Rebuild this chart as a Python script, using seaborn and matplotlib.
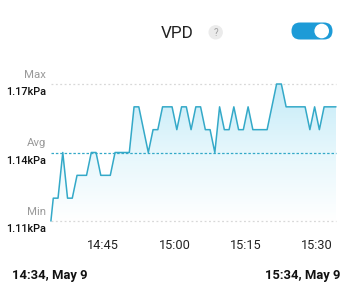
import numpy as np
import pandas as pd
import matplotlib
matplotlib.use("Agg")
import matplotlib.pyplot as plt
import seaborn as sns
from matplotlib.patches import FancyBboxPatch, Circle, PathPatch
from matplotlib.colors import LinearSegmentedColormap

# ---- data ----
minutes = [0.0] + [0.5 + k for k in range(60)] + [60.0]
vpd = [1.11,
       1.12, 1.12, 1.14, 1.12, 1.12, 1.13, 1.13, 1.13, 1.14, 1.14,
       1.13, 1.13, 1.13, 1.14, 1.14, 1.14, 1.14, 1.16, 1.16, 1.15,
       1.14, 1.15, 1.15, 1.16, 1.16, 1.16, 1.15, 1.16, 1.16, 1.15,
       1.16, 1.16, 1.15, 1.15, 1.14, 1.16, 1.15, 1.15, 1.16, 1.15,
       1.15, 1.16, 1.15, 1.15, 1.15, 1.15, 1.16, 1.17, 1.17, 1.16,
       1.16, 1.16, 1.16, 1.16, 1.15, 1.16, 1.15, 1.16, 1.16, 1.16,
       1.16]
tick_minutes = [11, 26, 41, 56]
tick_labels = ["14:45", "15:00", "15:15", "15:30"]
ref_names = ["Max", "Avg", "Min"]
ref_values = [1.17, 1.14, 1.11]
ref_texts = ["1.17kPa", "1.14kPa", "1.11kPa"]
start_label = "14:34, May 9"
end_label = "15:34, May 9"
title = "VPD"

df = pd.DataFrame({"t": minutes, "vpd": vpd})

sns.set_theme(style="white")
plt.rcParams["font.family"] = ["Roboto", "DejaVu Sans"]

W, H = 351, 300
fig = plt.figure(figsize=(W / 100, H / 100), dpi=100)
fig.patch.set_facecolor("white")

left, right = 50.9, 336.0
top_px, bot_px = 84.0, 221.0
ax = fig.add_axes([left / W, 1 - bot_px / H, (right - left) / W, (bot_px - top_px) / H])
ax.set_facecolor("none")
ax.set_xlim(0, 60)
ax.set_ylim(1.11, 1.17)
for s in ax.spines.values():
    s.set_visible(False)

line_color = "#34a9c8"

# gradient fill under line
cmap = LinearSegmentedColormap.from_list("g", ["#ffffff", "#e6f7fc", "#c4ebf8"])
grad = np.linspace(0, 1, 256).reshape(-1, 1)
im = ax.imshow(grad, extent=[0, 60, 1.11, 1.17], origin="lower", aspect="auto",
               cmap=cmap, zorder=1)
poly = ax.fill_between(df["t"], df["vpd"], 1.11, color="none", zorder=1)
clip_path = poly.get_paths()[0]
pp = PathPatch(clip_path, transform=ax.transData, facecolor="none", edgecolor="none")
ax.add_patch(pp)
im.set_clip_path(pp)

# reference lines
ax.axhline(1.17, color="#d8d8d8", lw=0.9, ls=(0, (1.5, 2)), zorder=2, clip_on=False)
ax.axhline(1.11, color="#d8d8d8", lw=0.9, ls=(0, (1.5, 2)), zorder=2, clip_on=False)
ax.axhline(1.14, color=line_color, lw=0.9, ls=(0, (2, 1.5)), zorder=2, clip_on=False)

sns.lineplot(data=df, x="t", y="vpd", ax=ax, color=line_color, lw=1.1, zorder=3)
for l in ax.lines:
    l.set_clip_on(False)
    l.set_solid_joinstyle("round")

ax.set_xlabel("")
ax.set_ylabel("")
ax.set_yticks([])
ax.set_xticks(tick_minutes)
ax.set_xticklabels(tick_labels, fontsize=9.2, color="#222222")
ax.tick_params(axis="x", length=0, pad=13)

# reference labels
for name, val, txt in zip(ref_names, ref_values, ref_texts):
    ax.annotate(name, xy=(0, val), xycoords=("axes fraction", "data"),
                xytext=(-3.5, 6.5), textcoords="offset points",
                ha="right", va="center", fontsize=8.2, color="#9a9a9a")
    ax.annotate(txt, xy=(0, val), xycoords=("axes fraction", "data"),
                xytext=(-3.5, -6.0), textcoords="offset points",
                ha="right", va="center", fontsize=7.8, color="#111111",
                fontweight="medium")

# overlay for header / footer
ov = fig.add_axes([0, 0, 1, 1], zorder=5)
ov.set_xlim(0, W)
ov.set_ylim(H, 0)
ov.axis("off")
ov.patch.set_alpha(0)

ov.text(177, 33, title, ha="center", va="center", fontsize=12.3, color="#222222")
ov.add_patch(Circle((215.7, 32.3), 7.2, facecolor="#ebebeb", edgecolor="none"))
ov.text(215.7, 32.6, "?", ha="center", va="center", fontsize=7, color="#a0a0a0")

ov.add_patch(FancyBboxPatch((300.0, 31.0), 24.0, 0.0,
                            boxstyle="round,pad=8.5", facecolor="#1d9bd7",
                            edgecolor="none"))
ov.add_patch(Circle((321.7, 31.0), 7.3, facecolor="white", edgecolor="none"))

ov.text(12, 275, start_label, ha="left", va="center", fontsize=9.4,
        color="#111111", fontweight="bold")
ov.text(340, 275, end_label, ha="right", va="center", fontsize=9.4,
        color="#111111", fontweight="bold")

fig.savefig("out.png", dpi=100, facecolor="white")
